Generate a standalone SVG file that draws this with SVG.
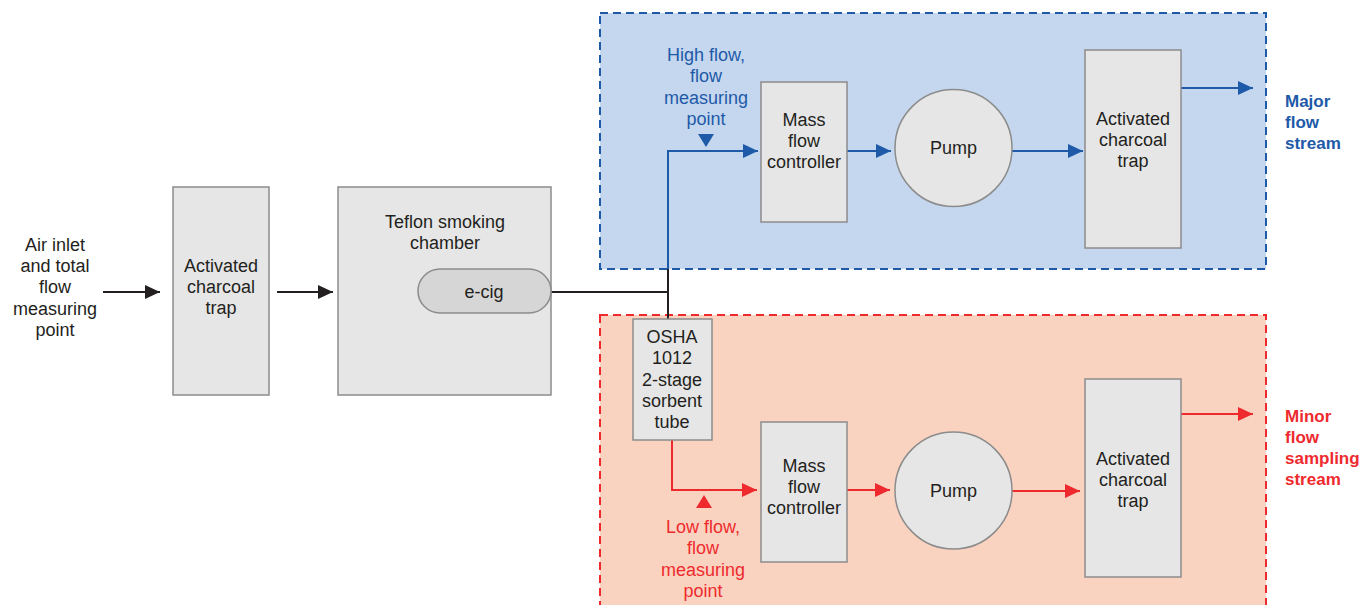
<svg xmlns="http://www.w3.org/2000/svg" width="1361" height="605" viewBox="0 0 1361 605">
<defs>
<style>
.t{font-family:"Liberation Sans",Arial,sans-serif;font-size:18px;fill:#231f20;text-anchor:middle}
.tb{font-family:"Liberation Sans",Arial,sans-serif;font-size:18px;fill:#1e5aa8;text-anchor:middle}
.tr{font-family:"Liberation Sans",Arial,sans-serif;font-size:18px;fill:#ee2a2e;text-anchor:middle}
.lb{font-family:"Liberation Sans",Arial,sans-serif;font-size:17px;font-weight:bold;fill:#1e5aa8}
.lr{font-family:"Liberation Sans",Arial,sans-serif;font-size:17px;font-weight:bold;fill:#ee2a2e}
.box{fill:#e6e6e6;stroke:#8c8c8c;stroke-width:1.5}
.k{stroke:#231f20;stroke-width:2;fill:none}
.b{stroke:#1e5aa8;stroke-width:2;fill:none}
.r{stroke:#ee2a2e;stroke-width:2;fill:none}
</style>
<marker id="ak" markerUnits="userSpaceOnUse" markerWidth="16" markerHeight="16" viewBox="0 0 16 16" refX="15" refY="8" orient="auto"><path d="M0,1 L15,8 L0,15 Z" fill="#231f20"/></marker>
<marker id="ab" markerUnits="userSpaceOnUse" markerWidth="16" markerHeight="16" viewBox="0 0 16 16" refX="15" refY="8" orient="auto"><path d="M0,1 L15,8 L0,15 Z" fill="#1e5aa8"/></marker>
<marker id="ar" markerUnits="userSpaceOnUse" markerWidth="16" markerHeight="16" viewBox="0 0 16 16" refX="15" refY="8" orient="auto"><path d="M0,1 L15,8 L0,15 Z" fill="#ee2a2e"/></marker>
</defs>
<rect width="1361" height="605" fill="#ffffff"/>

<g id="major-region">
<rect x="600" y="13" width="666" height="256" fill="#c5d7ee" stroke="#1e5aa8" stroke-width="2" stroke-dasharray="8,5"/>
</g>
<g id="minor-region">
<rect x="600" y="315" width="666" height="300" fill="#fad3c0" stroke="#ee2a2e" stroke-width="2" stroke-dasharray="8,5"/>
</g>

<g id="connectors">
<line class="k" x1="103" y1="292" x2="160" y2="292" marker-end="url(#ak)"/>
<line class="k" x1="277" y1="292" x2="333" y2="292" marker-end="url(#ak)"/>
<polyline class="k" points="551,292 668,292"/>
<line class="k" x1="668" y1="269" x2="668" y2="319"/>
<polyline class="b" points="668,269 668,151 758,151" marker-end="url(#ab)"/>
<line class="b" x1="847" y1="151" x2="891" y2="151" marker-end="url(#ab)"/>
<line class="b" x1="1012" y1="151" x2="1083" y2="151" marker-end="url(#ab)"/>
<line class="b" x1="1181" y1="88" x2="1253" y2="88" marker-end="url(#ab)"/>
<polyline class="r" points="672,440 672,490 757,490" marker-end="url(#ar)"/>
<line class="r" x1="847" y1="490" x2="890" y2="490" marker-end="url(#ar)"/>
<line class="r" x1="1012" y1="491" x2="1080" y2="491" marker-end="url(#ar)"/>
<line class="r" x1="1181" y1="414" x2="1253" y2="414" marker-end="url(#ar)"/>
<path d="M698,134 L714,134 L706,147 Z" fill="#1e5aa8"/>
<path d="M696,508 L712,508 L704,495 Z" fill="#ee2a2e"/>
</g>

<g id="air-inlet">
<text class="t" x="55" y="251">Air inlet</text>
<text class="t" x="55" y="272">and total</text>
<text class="t" x="55" y="293">flow</text>
<text class="t" x="55" y="315">measuring</text>
<text class="t" x="55" y="336">point</text>
</g>

<g id="trap-inlet">
<rect class="box" x="173" y="187" width="96" height="208"/>
<text class="t" x="221" y="272">Activated</text>
<text class="t" x="221" y="293">charcoal</text>
<text class="t" x="221" y="314">trap</text>
</g>

<g id="chamber">
<rect class="box" x="338" y="187" width="213" height="208"/>
<text class="t" x="445" y="228">Teflon smoking</text>
<text class="t" x="445" y="249">chamber</text>
</g>

<g id="ecig">
<rect x="418" y="269" width="133" height="44" rx="22" ry="22" fill="#d6d6d6" stroke="#8c8c8c" stroke-width="1.5"/>
<text class="t" x="484" y="298">e-cig</text>
</g>

<g id="high-flow-label">
<text class="tb" x="706" y="61">High flow,</text>
<text class="tb" x="706" y="82">flow</text>
<text class="tb" x="706" y="104">measuring</text>
<text class="tb" x="706" y="125">point</text>
</g>

<g id="mfc-major">
<rect class="box" x="761" y="82" width="86" height="140"/>
<text class="t" x="804" y="126">Mass</text>
<text class="t" x="804" y="147">flow</text>
<text class="t" x="804" y="168">controller</text>
</g>

<g id="pump-major">
<circle class="box" cx="953.5" cy="148" r="58.5"/>
<text class="t" x="953.5" y="154">Pump</text>
</g>

<g id="trap-major">
<rect class="box" x="1085" y="50" width="96" height="198"/>
<text class="t" x="1133" y="125">Activated</text>
<text class="t" x="1133" y="146">charcoal</text>
<text class="t" x="1133" y="167">trap</text>
</g>

<g id="major-label">
<text class="lb" x="1285" y="107">Major</text>
<text class="lb" x="1285" y="128">flow</text>
<text class="lb" x="1285" y="149">stream</text>
</g>

<g id="osha">
<rect class="box" x="633" y="319" width="79" height="121"/>
<text class="t" x="672" y="343">OSHA</text>
<text class="t" x="672" y="364">1012</text>
<text class="t" x="672" y="386">2-stage</text>
<text class="t" x="672" y="407">sorbent</text>
<text class="t" x="672" y="428">tube</text>
</g>

<g id="low-flow-label">
<text class="tr" x="703" y="533">Low flow,</text>
<text class="tr" x="703" y="554">flow</text>
<text class="tr" x="703" y="576">measuring</text>
<text class="tr" x="703" y="597">point</text>
</g>

<g id="mfc-minor">
<rect class="box" x="761" y="422" width="86" height="140"/>
<text class="t" x="804" y="472">Mass</text>
<text class="t" x="804" y="493">flow</text>
<text class="t" x="804" y="514">controller</text>
</g>

<g id="pump-minor">
<circle class="box" cx="953.5" cy="490.5" r="58.5"/>
<text class="t" x="953.5" y="497">Pump</text>
</g>

<g id="trap-minor">
<rect class="box" x="1085" y="379" width="96" height="198"/>
<text class="t" x="1133" y="465">Activated</text>
<text class="t" x="1133" y="486">charcoal</text>
<text class="t" x="1133" y="507">trap</text>
</g>

<g id="minor-label">
<text class="lr" x="1285" y="422">Minor</text>
<text class="lr" x="1285" y="443">flow</text>
<text class="lr" x="1285" y="464">sampling</text>
<text class="lr" x="1285" y="485">stream</text>
</g>
</svg>
